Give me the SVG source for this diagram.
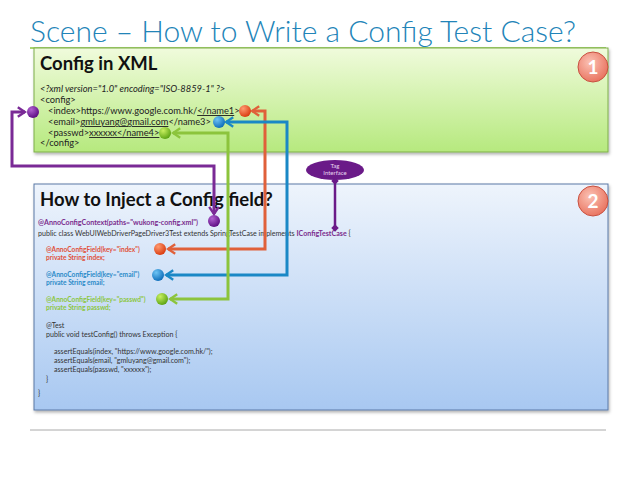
<svg xmlns="http://www.w3.org/2000/svg" width="638" height="479" viewBox="0 0 638 479">
<defs>
<linearGradient id="gGreen" x1="0" y1="0" x2="0" y2="1"><stop offset="0" stop-color="#f0fbdc"/><stop offset="1" stop-color="#b6e97e"/></linearGradient>
<linearGradient id="gBlue" x1="0" y1="0" x2="0" y2="1"><stop offset="0" stop-color="#eef4fc"/><stop offset="1" stop-color="#a8c8f1"/></linearGradient>
<radialGradient id="gBadge" cx="0.4" cy="0.35" r="0.7"><stop offset="0" stop-color="#fbc2b4"/><stop offset="1" stop-color="#e8705c"/></radialGradient>
<radialGradient id="dRed" cx="0.35" cy="0.3" r="0.75"><stop offset="0" stop-color="#ff9a70"/><stop offset="1" stop-color="#d8380c"/></radialGradient>
<radialGradient id="dBlue" cx="0.35" cy="0.3" r="0.75"><stop offset="0" stop-color="#6ec4f4"/><stop offset="1" stop-color="#0a6ab8"/></radialGradient>
<radialGradient id="dGreen" cx="0.35" cy="0.3" r="0.75"><stop offset="0" stop-color="#c8f060"/><stop offset="1" stop-color="#58a010"/></radialGradient>
<radialGradient id="dPurple" cx="0.35" cy="0.3" r="0.75"><stop offset="0" stop-color="#b060d0"/><stop offset="1" stop-color="#5a0a80"/></radialGradient>
<filter id="sh" x="-5%" y="-5%" width="110%" height="115%"><feDropShadow dx="1" dy="2" stdDeviation="1.5" flood-color="#000" flood-opacity="0.3"/></filter>
<marker id="aRed" viewBox="0 0 10 10" refX="8" refY="5" markerWidth="4" markerHeight="4" orient="auto-start-reverse" markerUnits="strokeWidth"><path d="M2,1 L8,5 L2,9" fill="none" stroke="#e0603a" stroke-width="2"/></marker>
<marker id="aBlue" viewBox="0 0 10 10" refX="8" refY="5" markerWidth="4" markerHeight="4" orient="auto-start-reverse" markerUnits="strokeWidth"><path d="M2,1 L8,5 L2,9" fill="none" stroke="#1a88c6" stroke-width="2"/></marker>
<marker id="aGreen" viewBox="0 0 10 10" refX="8" refY="5" markerWidth="4" markerHeight="4" orient="auto-start-reverse" markerUnits="strokeWidth"><path d="M2,1 L8,5 L2,9" fill="none" stroke="#8cc43c" stroke-width="2"/></marker>
<marker id="aPurple" viewBox="0 0 10 10" refX="8" refY="5" markerWidth="4" markerHeight="4" orient="auto-start-reverse" markerUnits="strokeWidth"><path d="M2,1 L8,5 L2,9" fill="none" stroke="#7a2a96" stroke-width="2"/></marker>
<marker id="dia" viewBox="0 0 10 10" refX="5" refY="5" markerWidth="3" markerHeight="3" orient="auto"><path d="M5,0 L10,5 L5,10 L0,5 Z" fill="#6a1a88"/></marker>
</defs>
<style>
text{font-family:Lato,"Open Sans","Liberation Sans",sans-serif}
.title{font-size:30px;font-weight:300;fill:#2284b8}
.h{font-size:18.5px;font-weight:bold;fill:#111}
.x{font-size:9.3px;fill:#222}
.c{font-size:7.1px;fill:#333}
.cc{font-size:6.6px}
.pu{fill:#7b2d8e;font-weight:bold}
.rd{fill:#e0503a;font-weight:bold}
.bl{fill:#2a8ac8;font-weight:bold}
.gr{fill:#8cc63f;font-weight:bold}
.badge{font-size:19px;font-weight:bold;fill:#fff;text-anchor:middle}
.conn{fill:none;stroke-width:3}
</style>
<text class="title" x="30" y="42">Scene – How to Write a Config Test Case?</text>
<line x1="30" y1="48" x2="606" y2="48" stroke="#8cc63f" stroke-width="1.5"/>
<line x1="30" y1="430" x2="606" y2="430" stroke="#aaa" stroke-width="1"/>

<g id="box1">
<rect x="34" y="48" width="574" height="104" fill="url(#gGreen)" stroke="#7fae4a" stroke-width="1" filter="url(#sh)"/>
<text class="h" x="40" y="70">Config in XML</text>
<text class="x" x="40" y="92" font-style="italic">&lt;?xml version="1.0" encoding="ISO-8859-1" ?&gt;</text>
<text class="x" x="40" y="103">&lt;config&gt;</text>
<text class="x" x="48" y="114">&lt;index&gt;https://www.google.com.hk/<tspan text-decoration="underline">&lt;/name1</tspan>&gt;</text>
<text class="x" x="48" y="125">&lt;email&gt;<tspan text-decoration="underline">gmluyang@gmail.com</tspan>&lt;/name3&gt;</text>
<text class="x" x="48" y="136">&lt;passwd&gt;<tspan text-decoration="underline">xxxxxx&lt;/name4&gt;</tspan></text>
<text class="x" x="40" y="146">&lt;/config&gt;</text>
</g>
<g id="badge1">
<circle cx="593" cy="67" r="15" fill="url(#gBadge)" stroke="#c85040" stroke-width="1"/>
<text class="badge" x="593" y="74">1</text>
</g>

<g id="box2">
<rect x="34" y="184" width="574" height="226" fill="url(#gBlue)" stroke="#5a78a6" stroke-width="1" filter="url(#sh)"/>
<text class="h" x="40" y="206">How to Inject a Config field?</text>
<text class="c pu" x="38" y="225">@AnnoConfigContext(paths="wukong-config.xml")</text>
<text class="c" x="38" y="236">public class WebUIWebDriverPageDriver3Test extends SpringTestCase implements <tspan class="pu">IConfigTestCase</tspan> {</text>
<text class="c cc rd" x="46" y="252">@AnnoConfigField(key="index")</text>
<text class="c cc rd" x="46" y="260">private String index;</text>
<text class="c cc bl" x="46" y="277">@AnnoConfigField(key="email")</text>
<text class="c cc bl" x="46" y="285">private String email;</text>
<text class="c cc gr" x="46" y="302">@AnnoConfigField(key="passwd")</text>
<text class="c cc gr" x="46" y="310">private String passwd;</text>
<text class="c" x="46" y="328">@Test</text>
<text class="c" x="46" y="337">public void testConfig() throws Exception {</text>
<text class="c" x="54" y="354">assertEquals(index, "https://www.google.com.hk/");</text>
<text class="c" x="54" y="363">assertEquals(email, "gmluyang@gmail.com");</text>
<text class="c" x="54" y="372">assertEquals(passwd, "xxxxxx");</text>
<text class="c" x="46" y="382">}</text>
<text class="c" x="38" y="396">}</text>
</g>
<g id="badge2">
<circle cx="593" cy="201" r="15" fill="url(#gBadge)" stroke="#c85040" stroke-width="1"/>
<text class="badge" x="593" y="208">2</text>
</g>

<g id="tag">
<ellipse cx="335" cy="170" rx="29" ry="10" fill="#6a1a88"/>
<text x="335" y="168" font-size="6" fill="#e8d8f0" text-anchor="middle">Tag</text>
<text x="335" y="175" font-size="6" fill="#e8d8f0" text-anchor="middle">Interface</text>
</g>

<g id="connectors">
<path class="conn" d="M252,111 H265 V249 H168" stroke="#e0603a" marker-start="url(#aRed)" marker-end="url(#aRed)"/>
<path class="conn" d="M226,122 H287 V275 H166" stroke="#1a88c6" marker-start="url(#aBlue)" marker-end="url(#aBlue)"/>
<path class="conn" d="M173,133 H228 V299 H170" stroke="#8cc43c" marker-start="url(#aGreen)" marker-end="url(#aGreen)"/>
<path class="conn" d="M25,112 H12 V166 H214 V214" stroke="#7a2a96" marker-start="url(#aPurple)" marker-end="url(#aPurple)"/>
<path d="M335,181 V228" stroke="#6a1a88" stroke-width="2.5" marker-start="url(#dia)" marker-end="url(#dia)"/>
</g>

<g id="dots">
<circle cx="33" cy="112" r="6" fill="url(#dPurple)"/>
<circle cx="245" cy="111" r="6" fill="url(#dRed)"/>
<circle cx="219" cy="122" r="6" fill="url(#dBlue)"/>
<circle cx="165" cy="133" r="6" fill="url(#dGreen)"/>
<circle cx="214" cy="221" r="6" fill="url(#dPurple)"/>
<circle cx="160" cy="249" r="6" fill="url(#dRed)"/>
<circle cx="158" cy="275" r="6" fill="url(#dBlue)"/>
<circle cx="162" cy="299" r="6" fill="url(#dGreen)"/>
</g>
</svg>
